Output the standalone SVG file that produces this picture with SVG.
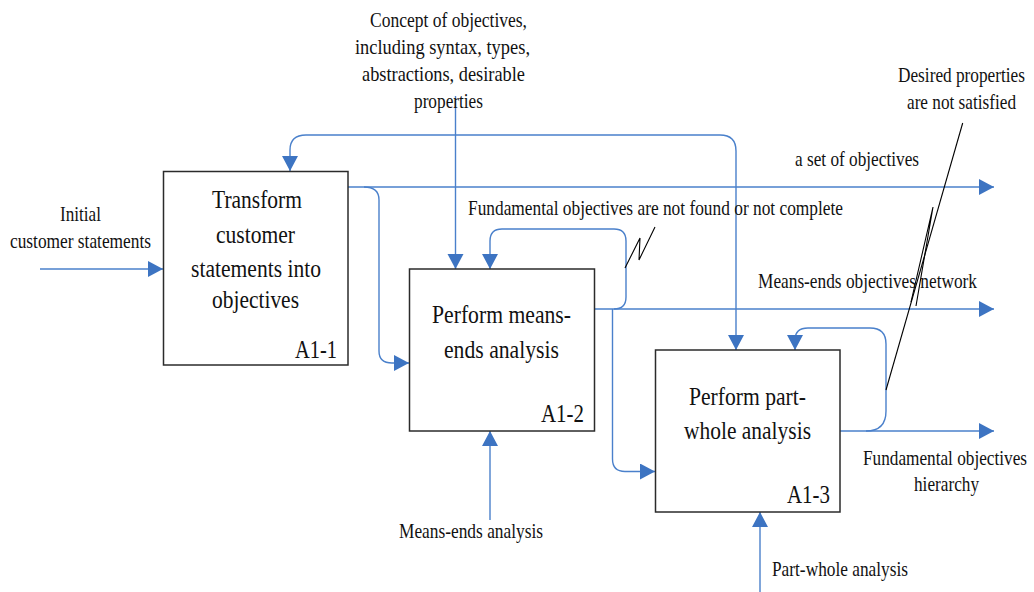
<svg xmlns="http://www.w3.org/2000/svg" width="1034" height="592" viewBox="0 0 1034 592">
<defs>
<marker id="ah" markerUnits="userSpaceOnUse" markerWidth="16" markerHeight="18" refX="15" refY="8" orient="auto">
<path d="M0,0 L15,8 L0,16 z" fill="#3d74c2"/>
</marker>
<style>
.box{fill:#fff;stroke:#2b2b2b;stroke-width:1.5}
.c{fill:none;stroke:#4a80cb;stroke-width:1.4}
.a{marker-end:url(#ah)}
.k{fill:none;stroke:#000;stroke-width:1.1}
.l{font-size:22px;font-family:'Liberation Serif','Times New Roman',serif}
.t{font-size:26px;font-family:'Liberation Serif','Times New Roman',serif}
.id{font-size:25px;font-family:'Liberation Serif','Times New Roman',serif}
</style>
</defs>
<rect width="1034" height="592" fill="#fff"/>

<g id="connectors">
<path class="c a" d="M40,269 H163"/>
<path class="c a" d="M348,187 H994"/>
<path class="c a" d="M364,187 Q379,187 379,200 V351 Q379,363 392,363 H409"/>
<path class="c a" d="M455.5,96 V269"/>
<path class="c a" d="M306,135 Q290,135 290,150 V171"/>
<path class="c a" d="M306,135 H720 Q736,135 736,151 V350"/>
<path class="c a" d="M594,309 H994"/>
<path class="c a" d="M614,309 Q626,309 626,297 V241 Q626,229 614,229 H502 Q490,229 490,241 V269"/>
<path class="c a" d="M612.5,309 V459 Q612.5,471.5 625,471.5 H655"/>
<path class="c a" d="M490,520 V431"/>
<path class="c a" d="M840,431 H994"/>
<path class="c a" d="M866,431 Q886,431 886,411 V344 Q886,328 870,328 H808 Q795,328 795,340 V350"/>
<path class="c a" d="M760,592 V512"/>
<polyline class="k" points="625,268 640,238 639,260 655,227"/>
<line class="k" x1="962.7" y1="123" x2="886" y2="390"/>
<polyline class="k" points="911,302 933,207 916,306"/>
</g>

<g fill="#111">
<g id="node-A1-1">
<rect class="box" x="163.5" y="171.5" width="184.5" height="193.5"/>
<text class="t" x="212" y="208" textLength="90" lengthAdjust="spacingAndGlyphs">Transform</text>
<text class="t" x="216" y="243" textLength="79" lengthAdjust="spacingAndGlyphs">customer</text>
<text class="t" x="191" y="277" textLength="130" lengthAdjust="spacingAndGlyphs">statements into</text>
<text class="t" x="212" y="308" textLength="87" lengthAdjust="spacingAndGlyphs">objectives</text>
<text class="id" x="295" y="358" textLength="42" lengthAdjust="spacingAndGlyphs">A1-1</text>
</g>

<g id="node-A1-2">
<rect class="box" x="409.5" y="269" width="185" height="162"/>
<text class="t" x="432" y="323" textLength="139" lengthAdjust="spacingAndGlyphs">Perform means-</text>
<text class="t" x="444" y="358" textLength="115" lengthAdjust="spacingAndGlyphs">ends analysis</text>
<text class="id" x="541" y="422" textLength="43" lengthAdjust="spacingAndGlyphs">A1-2</text>
</g>

<g id="node-A1-3">
<rect class="box" x="655.5" y="350" width="184.5" height="162"/>
<text class="t" x="689" y="405" textLength="117" lengthAdjust="spacingAndGlyphs">Perform part-</text>
<text class="t" x="684" y="439" textLength="127" lengthAdjust="spacingAndGlyphs">whole analysis</text>
<text class="id" x="787" y="503" textLength="43" lengthAdjust="spacingAndGlyphs">A1-3</text>
</g>

<g id="labels">
<text class="l" x="370" y="27" textLength="157" lengthAdjust="spacingAndGlyphs">Concept of objectives,</text>
<text class="l" x="355" y="54" textLength="175" lengthAdjust="spacingAndGlyphs">including syntax, types,</text>
<text class="l" x="362" y="81" textLength="163" lengthAdjust="spacingAndGlyphs">abstractions, desirable</text>
<text class="l" x="414" y="108" textLength="69" lengthAdjust="spacingAndGlyphs">properties</text>
<text class="l" x="60" y="221" textLength="41" lengthAdjust="spacingAndGlyphs">Initial</text>
<text class="l" x="10" y="248" textLength="141" lengthAdjust="spacingAndGlyphs">customer statements</text>
<text class="l" x="468" y="215" textLength="375" lengthAdjust="spacingAndGlyphs">Fundamental objectives are not found or not complete</text>
<text class="l" x="795" y="166" textLength="124" lengthAdjust="spacingAndGlyphs">a set of objectives</text>
<text class="l" x="758" y="288" textLength="219" lengthAdjust="spacingAndGlyphs">Means-ends objectives network</text>
<text class="l" x="898" y="82" textLength="127" lengthAdjust="spacingAndGlyphs">Desired properties</text>
<text class="l" x="907" y="109" textLength="109" lengthAdjust="spacingAndGlyphs">are not satisfied</text>
<text class="l" x="863" y="465" textLength="164" lengthAdjust="spacingAndGlyphs">Fundamental objectives</text>
<text class="l" x="914" y="491" textLength="65" lengthAdjust="spacingAndGlyphs">hierarchy</text>
<text class="l" x="399" y="538" textLength="144" lengthAdjust="spacingAndGlyphs">Means-ends analysis</text>
<text class="l" x="772" y="576" textLength="136" lengthAdjust="spacingAndGlyphs">Part-whole analysis</text>
</g>
</g>
</svg>
